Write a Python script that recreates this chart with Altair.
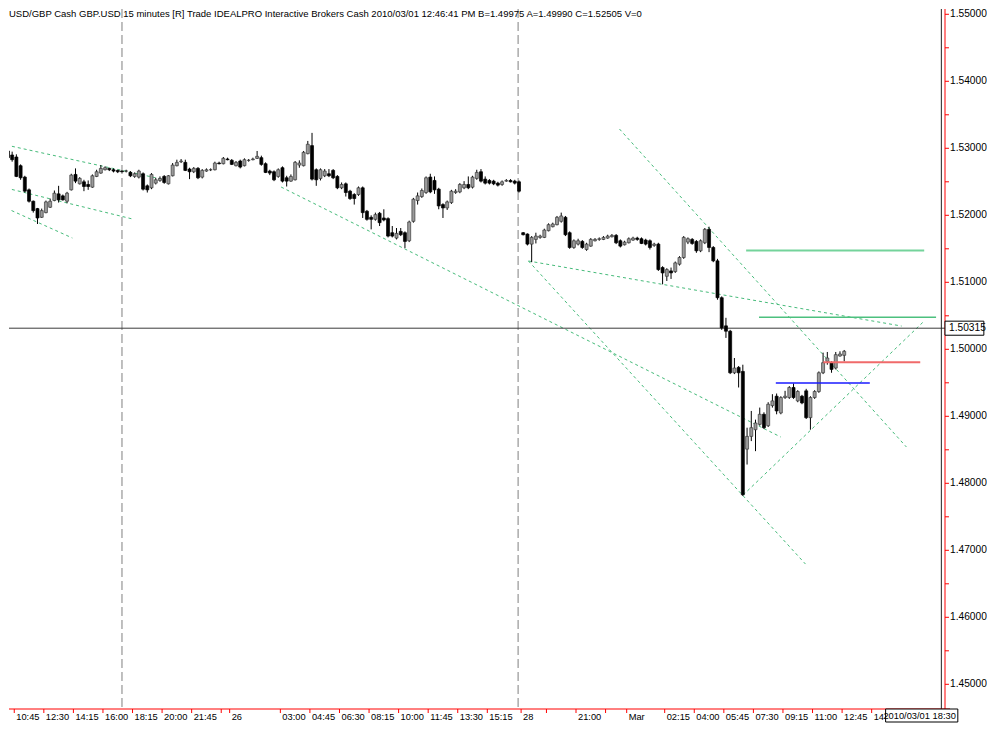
import altair as alt
import pandas as pd

FONT = "Arial"
HEADER = ("USD/GBP Cash GBP.USD 15 minutes [R] Trade IDEALPRO Interactive Brokers Cash "
          "2010/03/01 12:46:41 PM B=1.49975 A=1.49990 C=1.52505 V=0")

# ---- 15-minute candles (bar index, first bar = -2) ----
FIRST_BAR = -2
bar_open = [
    1.5296, 1.5290, 1.5287, 1.5274, 1.5257, 1.5238, 1.5221, 1.5210, 1.5197, 1.5204,
    1.5212, 1.5222, 1.5232, 1.5229, 1.5221, 1.5238, 1.5261, 1.5247, 1.5250, 1.5246,
    1.5242, 1.5258, 1.5263, 1.5268, 1.5270, 1.5268, 1.5267, 1.5266, 1.5266, 1.5264,
    1.5258, 1.5257, 1.5262, 1.5244, 1.5241, 1.5248, 1.5252, 1.5258, 1.5247, 1.5259,
    1.5274, 1.5280, 1.5279, 1.5269, 1.5265, 1.5270, 1.5257, 1.5266, 1.5268, 1.5268,
    1.5278, 1.5277, 1.5284, 1.5282, 1.5274, 1.5281, 1.5274, 1.5282, 1.5283, 1.5285,
    1.5286, 1.5277, 1.5266, 1.5265, 1.5258, 1.5271, 1.5256, 1.5251, 1.5253, 1.5275,
    1.5274, 1.5292, 1.5304, 1.5268, 1.5255, 1.5259, 1.5262, 1.5267, 1.5258, 1.5241,
    1.5247, 1.5236, 1.5231, 1.5231, 1.5241, 1.5206, 1.5197, 1.5194, 1.5203, 1.5196,
    1.5195, 1.5174, 1.5166, 1.5176, 1.5174, 1.5162, 1.5191, 1.5222, 1.5228, 1.5234,
    1.5257, 1.5252, 1.5239, 1.5216, 1.5211, 1.5219, 1.5234, 1.5235, 1.5241, 1.5246,
    1.5242, 1.5255, 1.5265, 1.5254, 1.5252, 1.5251, 1.5248, 1.5246, 1.5251, 1.5252,
    1.5251, 1.5250, 1.5174, 1.5172, 1.5157, 1.5164, 1.5167, 1.5167, 1.5177, 1.5183,
    1.5186, 1.5191, 1.5197, 1.5174, 1.5152, 1.5157, 1.5161, 1.5149, 1.5154, 1.5162,
    1.5164, 1.5164, 1.5166, 1.5168, 1.5170, 1.5162, 1.5156, 1.5159, 1.5163, 1.5166,
    1.5165, 1.5163, 1.5162, 1.5155, 1.5157, 1.5122, 1.5109, 1.5117, 1.5116, 1.5127,
    1.5137, 1.5160, 1.5164, 1.5161, 1.5147, 1.5159, 1.5179, 1.5152, 1.5132, 1.5077,
    1.5035, 1.5027, 1.4965, 1.4973, 1.4967, 1.4851, 1.4870, 1.4880, 1.4888, 1.4903,
    1.4886, 1.4916, 1.4930, 1.4905, 1.4928, 1.4928, 1.4943, 1.4923, 1.4930, 1.4938,
    1.4898, 1.4928, 1.4937, 1.4965, 1.4982, 1.4980, 1.4972, 1.4990, 1.4991,
]
bar_high = [
    1.5301, 1.5295, 1.5291, 1.5276, 1.5259, 1.5240, 1.5222, 1.5211, 1.5210, 1.5222,
    1.5225, 1.5237, 1.5244, 1.5231, 1.5235, 1.5262, 1.5270, 1.5257, 1.5253, 1.5252,
    1.5261, 1.5268, 1.5275, 1.5273, 1.5271, 1.5270, 1.5268, 1.5267, 1.5268, 1.5266,
    1.5264, 1.5268, 1.5264, 1.5246, 1.5263, 1.5256, 1.5258, 1.5260, 1.5260, 1.5278,
    1.5283, 1.5284, 1.5283, 1.5271, 1.5272, 1.5272, 1.5269, 1.5270, 1.5270, 1.5280,
    1.5280, 1.5287, 1.5286, 1.5284, 1.5281, 1.5283, 1.5285, 1.5284, 1.5286, 1.5296,
    1.5289, 1.5279, 1.5268, 1.5267, 1.5270, 1.5273, 1.5259, 1.5261, 1.5281, 1.5282,
    1.5296, 1.5311, 1.5323, 1.5270, 1.5270, 1.5269, 1.5269, 1.5269, 1.5260, 1.5249,
    1.5249, 1.5238, 1.5233, 1.5243, 1.5243, 1.5208, 1.5200, 1.5204, 1.5205, 1.5209,
    1.5197, 1.5184, 1.5181, 1.5181, 1.5176, 1.5192, 1.5226, 1.5234, 1.5240, 1.5258,
    1.5262, 1.5258, 1.5241, 1.5218, 1.5222, 1.5238, 1.5239, 1.5248, 1.5251, 1.5258,
    1.5259, 1.5268, 1.5269, 1.5258, 1.5254, 1.5253, 1.5250, 1.5252, 1.5254, 1.5254,
    1.5253, 1.5252, 1.5175, 1.5173, 1.5169, 1.5174, 1.5171, 1.5180, 1.5188, 1.5189,
    1.5199, 1.5204, 1.5199, 1.5176, 1.5164, 1.5165, 1.5163, 1.5159, 1.5166, 1.5166,
    1.5167, 1.5169, 1.5171, 1.5172, 1.5172, 1.5164, 1.5162, 1.5167, 1.5168, 1.5168,
    1.5167, 1.5165, 1.5164, 1.5159, 1.5159, 1.5124, 1.5121, 1.5122, 1.5131, 1.5139,
    1.5169, 1.5167, 1.5166, 1.5163, 1.5164, 1.5181, 1.5183, 1.5154, 1.5135, 1.5079,
    1.5047, 1.5029, 1.4987, 1.4975, 1.4977, 1.4883, 1.4908, 1.4895, 1.4913, 1.4906,
    1.4921, 1.4933, 1.4934, 1.4930, 1.4938, 1.4945, 1.4949, 1.4939, 1.4932, 1.4941,
    1.4930, 1.4939, 1.4967, 1.4995, 1.4996, 1.4982, 1.4996, 1.4997, 1.4999,
]
bar_low = [
    1.5284, 1.5280, 1.5257, 1.5253, 1.5234, 1.5219, 1.5204, 1.5187, 1.5196, 1.5203,
    1.5211, 1.5221, 1.5219, 1.5222, 1.5218, 1.5237, 1.5248, 1.5246, 1.5236, 1.5238,
    1.5241, 1.5257, 1.5262, 1.5267, 1.5266, 1.5264, 1.5263, 1.5264, 1.5264, 1.5257,
    1.5256, 1.5255, 1.5237, 1.5234, 1.5239, 1.5246, 1.5250, 1.5247, 1.5246, 1.5258,
    1.5273, 1.5278, 1.5266, 1.5254, 1.5263, 1.5254, 1.5255, 1.5265, 1.5266, 1.5267,
    1.5276, 1.5276, 1.5282, 1.5275, 1.5273, 1.5270, 1.5273, 1.5280, 1.5282, 1.5284,
    1.5274, 1.5263, 1.5260, 1.5251, 1.5256, 1.5249, 1.5243, 1.5250, 1.5252, 1.5271,
    1.5273, 1.5291, 1.5252, 1.5244, 1.5252, 1.5257, 1.5257, 1.5254, 1.5239, 1.5239,
    1.5228, 1.5223, 1.5216, 1.5229, 1.5196, 1.5192, 1.5179, 1.5192, 1.5184, 1.5191,
    1.5167, 1.5167, 1.5164, 1.5169, 1.5151, 1.5160, 1.5189, 1.5216, 1.5226, 1.5232,
    1.5233, 1.5232, 1.5209, 1.5196, 1.5208, 1.5217, 1.5232, 1.5233, 1.5239, 1.5239,
    1.5240, 1.5253, 1.5249, 1.5246, 1.5246, 1.5245, 1.5243, 1.5244, 1.5250, 1.5249,
    1.5246, 1.5234, 1.5170, 1.5155, 1.5130, 1.5158, 1.5165, 1.5166, 1.5176, 1.5182,
    1.5185, 1.5189, 1.5169, 1.5150, 1.5150, 1.5155, 1.5150, 1.5147, 1.5153, 1.5161,
    1.5162, 1.5163, 1.5165, 1.5167, 1.5157, 1.5152, 1.5155, 1.5158, 1.5162, 1.5162,
    1.5157, 1.5155, 1.5149, 1.5153, 1.5117, 1.5097, 1.5102, 1.5105, 1.5114, 1.5125,
    1.5135, 1.5157, 1.5156, 1.5144, 1.5145, 1.5157, 1.5145, 1.5130, 1.5074, 1.5029,
    1.5017, 1.4963, 1.4963, 1.4943, 1.4781, 1.4828, 1.4863, 1.4848, 1.4886, 1.4881,
    1.4884, 1.4913, 1.4903, 1.4903, 1.4926, 1.4926, 1.4926, 1.4921, 1.4918, 1.4896,
    1.4880, 1.4926, 1.4935, 1.4963, 1.4977, 1.4965, 1.4970, 1.4989, 1.4982,
]
bar_close = [
    1.5286, 1.5283, 1.5258, 1.5256, 1.5236, 1.5221, 1.5207, 1.5196, 1.5207, 1.5220,
    1.5221, 1.5233, 1.5223, 1.5223, 1.5233, 1.5260, 1.5251, 1.5255, 1.5243, 1.5243,
    1.5259, 1.5265, 1.5270, 1.5271, 1.5268, 1.5266, 1.5265, 1.5265, 1.5266, 1.5259,
    1.5262, 1.5266, 1.5239, 1.5238, 1.5261, 1.5253, 1.5255, 1.5249, 1.5259, 1.5275,
    1.5279, 1.5281, 1.5267, 1.5265, 1.5270, 1.5256, 1.5267, 1.5268, 1.5268, 1.5278,
    1.5277, 1.5285, 1.5283, 1.5276, 1.5279, 1.5272, 1.5283, 1.5282, 1.5284, 1.5288,
    1.5276, 1.5264, 1.5263, 1.5253, 1.5268, 1.5251, 1.5251, 1.5258, 1.5279, 1.5278,
    1.5294, 1.5306, 1.5254, 1.5253, 1.5268, 1.5266, 1.5259, 1.5256, 1.5241, 1.5246,
    1.5234, 1.5225, 1.5225, 1.5241, 1.5204, 1.5194, 1.5194, 1.5201, 1.5189, 1.5193,
    1.5169, 1.5169, 1.5173, 1.5171, 1.5161, 1.5190, 1.5224, 1.5229, 1.5237, 1.5256,
    1.5235, 1.5238, 1.5214, 1.5211, 1.5220, 1.5236, 1.5236, 1.5246, 1.5246, 1.5241,
    1.5257, 1.5264, 1.5251, 1.5248, 1.5248, 1.5247, 1.5245, 1.5250, 1.5252, 1.5250,
    1.5248, 1.5236, 1.5171, 1.5157, 1.5167, 1.5169, 1.5169, 1.5178, 1.5186, 1.5187,
    1.5197, 1.5199, 1.5171, 1.5152, 1.5162, 1.5162, 1.5152, 1.5157, 1.5164, 1.5164,
    1.5165, 1.5167, 1.5169, 1.5170, 1.5159, 1.5154, 1.5160, 1.5165, 1.5166, 1.5164,
    1.5158, 1.5157, 1.5152, 1.5157, 1.5119, 1.5114, 1.5119, 1.5114, 1.5129, 1.5137,
    1.5167, 1.5165, 1.5158, 1.5147, 1.5162, 1.5179, 1.5152, 1.5132, 1.5077, 1.5032,
    1.5027, 1.4965, 1.4972, 1.4965, 1.4783, 1.4870, 1.4883, 1.4890, 1.4903, 1.4883,
    1.4918, 1.4923, 1.4908, 1.4928, 1.4930, 1.4943, 1.4928, 1.4937, 1.4920, 1.4898,
    1.4928, 1.4937, 1.4965, 1.4980, 1.4987, 1.4970, 1.4992, 1.4993, 1.4997,
]

# ---- time axis (ticks sit half a bar before the labelled bar) ----
tick_bars = [-0.5, 6.5, 13.5, 20.5, 27.5, 34.5, 41.5, 48.5, 50.5, 62.5, 69.5, 76.5,
             83.5, 90.5, 97.5, 104.5, 111.5, 119.5, 125.5, 132.5, 139.5, 144.5, 153.5,
             160.5, 167.5, 174.5, 181.5, 188.5, 195.5, 202.5]
tick_labels = ["10:45", "12:30", "14:15", "16:00", "18:15", "20:00", "21:45", "", "26",
               "03:00", "04:45", "06:30", "08:15", "10:00", "11:45", "13:30", "15:15",
               "28", "", "21:00", "", "Mar", "02:15", "04:00", "05:45", "07:30", "09:15",
               "11:00", "12:45", "14"]
# price axis: a tick every 0.005, a label every 0.01
price_ticks = [1.450, 1.455, 1.460, 1.465, 1.470, 1.475, 1.480, 1.485, 1.490, 1.495,
               1.500, 1.505, 1.510, 1.515, 1.520, 1.525, 1.530, 1.535, 1.540, 1.545, 1.550]
price_labels = ["1.45000", "", "1.46000", "", "1.47000", "", "1.48000", "", "1.49000", "",
                "1.50000", "", "1.51000", "", "1.52000", "", "1.53000", "", "1.54000", "",
                "1.55000"]

session_breaks = [25.0, 118.8]

# dashed trend lines (bar index, price)
trend_x1 = [-2.44, -2.44, -2.44, 62.68, 121.24, 121.24, 142.79, 172.07]
trend_x2 = [34.34, 27.55, 13.26, 180.98, 209.60, 186.83, 210.73, 214.94]
trend_y1 = [1.53049, 1.52407, 1.52108, 1.52422, 1.51318, 1.51318, 1.53288, 1.47825]
trend_y2 = [1.52541, 1.51944, 1.51661, 1.48691, 1.50347, 1.46795, 1.48542, 1.50422]

# horizontal levels
level_x1 = [172.78, 175.83, 191.05, 179.81]
level_x2 = [214.94, 217.75, 214.00, 202.06]
level_y = [1.51474, 1.50477, 1.49806, 1.49497]
level_color = ["#74d39b", "#4cc07e", "#f06a6a", "#1a1aff"]
level_width = [2.0, 1.5, 2.0, 1.5]

cursor_price = 1.50315
cursor_bar = 219
cursor_time = "2010/03/01 18:30"
time_box_bars = [205.8, 222.9]

X_LEFT, X_RIGHT = -0.5622, 219.864
PLOT_W, PLOT_H = 941, 700
Y_TOP = 1.55079
PX_P = 0.00014925                       # price per pixel
Y_BOTTOM = Y_TOP - PLOT_H * PX_P
PX_I = (X_RIGHT - X_LEFT) / PLOT_W      # bars per pixel
RED = "#ff0000"

# ---------------------------------------------------------------
bars = pd.DataFrame({
    "i": list(range(FIRST_BAR, FIRST_BAR + len(bar_open))),
    "o": bar_open, "h": bar_high, "l": bar_low, "c": bar_close,
})
trend_df = pd.DataFrame({"x1": trend_x1, "x2": trend_x2, "y1": trend_y1, "y2": trend_y2})
level_df = pd.DataFrame({"x1": level_x1, "x2": level_x2, "y": level_y,
                         "col": level_color, "w": level_width})
xt_df = pd.DataFrame({"i": tick_bars, "lab": tick_labels})
xt_df["y0"] = Y_BOTTOM
xt_df["y1"] = Y_BOTTOM - 4 * PX_P
xt_df["ylab"] = Y_BOTTOM - 8.3 * PX_P
yt_df = pd.DataFrame({"p": price_ticks, "lab": price_labels})
yt_df["x0"] = X_RIGHT
yt_df["x1"] = X_RIGHT + 4 * PX_I

xs = alt.Scale(domain=[X_LEFT, X_RIGHT], nice=False, zero=False)
ys = alt.Scale(domain=[Y_BOTTOM, Y_TOP], nice=False, zero=False)


def X(f):
    return alt.X(f, scale=xs, axis=None, title=None)


def Y(f):
    return alt.Y(f, scale=ys, axis=None, title=None)


sess = alt.Chart(pd.DataFrame({"i": session_breaks})).mark_rule(
    color="#ababab", strokeWidth=1.5, strokeDash=[9, 4]
).encode(x=X("i:Q"))

trend = alt.Chart(trend_df).mark_rule(
    color="#46bb7a", strokeWidth=1, strokeDash=[3, 3], clip=True
).encode(x=X("x1:Q"), x2="x2:Q", y=Y("y1:Q"), y2="y2:Q")

cross_h = alt.Chart(pd.DataFrame({"p": [cursor_price]})).mark_rule(
    color="#3a3a3a", strokeWidth=1
).encode(y=Y("p:Q"))

wick = alt.Chart(bars).mark_rule(color="#000000", strokeWidth=1, clip=True).encode(
    x=X("i:Q"), y=Y("l:Q"), y2="h:Q",
)

body = alt.Chart(bars).mark_bar(size=3, strokeWidth=0.7, clip=True).encode(
    x=X("i:Q"), y=Y("o:Q"), y2="c:Q",
    fill=alt.condition("datum.c >= datum.o", alt.value("#9a9a9a"), alt.value("#000000")),
    stroke=alt.condition("datum.c >= datum.o", alt.value("#3a3a3a"), alt.value("#000000")),
)

levels = alt.Chart(level_df).mark_rule().encode(
    x=X("x1:Q"), x2="x2:Q", y=Y("y:Q"),
    color=alt.Color("col:N", scale=None),
    strokeWidth=alt.StrokeWidth("w:Q", scale=None),
)

cross_v = alt.Chart(pd.DataFrame({"i": [cursor_bar]})).mark_rule(
    color="#222222", strokeWidth=1
).encode(x=X("i:Q"))

# ---- hand-drawn axes (red frame lines, ticks and labels) ----
x_dom = alt.Chart(pd.DataFrame({"p": [Y_BOTTOM]})).mark_rule(color=RED, strokeWidth=1).encode(y=Y("p:Q"))
y_dom = alt.Chart(pd.DataFrame({"i": [X_RIGHT]})).mark_rule(color=RED, strokeWidth=1).encode(x=X("i:Q"))
x_ticks = alt.Chart(xt_df).mark_rule(color=RED, strokeWidth=1).encode(
    x=X("i:Q"), y=Y("y0:Q"), y2="y1:Q")
x_labels = alt.Chart(xt_df).mark_text(
    align="left", baseline="middle", font=FONT, fontSize=9.3, color="#000000", dx=2
).encode(x=X("i:Q"), y=Y("ylab:Q"), text="lab:N")
y_ticks = alt.Chart(yt_df).mark_rule(color=RED, strokeWidth=1).encode(
    x=X("x0:Q"), x2="x1:Q", y=Y("p:Q"))
y_labels = alt.Chart(yt_df).mark_text(
    align="left", baseline="middle", font=FONT, fontSize=10.2, color="#000000", dx=5
).encode(x=X("x0:Q"), y=Y("p:Q"), text="lab:N")

pbox_df = pd.DataFrame({"x1": [X_RIGHT], "x2": [X_RIGHT + 9.2],
                        "y1": [cursor_price - 0.00105], "y2": [cursor_price + 0.00105],
                        "p": [cursor_price], "t": ["%.5f" % cursor_price]})
pbox = alt.Chart(pbox_df).mark_rect(fill="#ffffff", stroke="#000000", strokeWidth=1).encode(
    x=X("x1:Q"), x2="x2:Q", y=Y("y1:Q"), y2="y2:Q")
ptext = alt.Chart(pbox_df).mark_text(
    align="left", baseline="middle", font=FONT, fontSize=10.2, color="#000000", dx=4
).encode(x=X("x1:Q"), y=Y("p:Q"), text="t:N")

tbox_df = pd.DataFrame({"x1": [time_box_bars[0]], "x2": [time_box_bars[1]],
                        "y1": [Y_BOTTOM], "y2": [Y_BOTTOM - 13 * PX_P],
                        "ym": [Y_BOTTOM - 6.6 * PX_P], "t": [cursor_time]})
tbox = alt.Chart(tbox_df).mark_rect(fill="#ffffff", stroke="#000000", strokeWidth=1).encode(
    x=X("x1:Q"), x2="x2:Q", y=Y("y1:Q"), y2="y2:Q")
ttext = alt.Chart(tbox_df).mark_text(
    align="right", baseline="middle", font=FONT, fontSize=9.3, color="#000000", dx=-2
).encode(x=X("x2:Q"), y=Y("ym:Q"), text="t:N")

header = alt.Chart(pd.DataFrame({"t": [HEADER]})).mark_text(
    align="left", baseline="top", font=FONT, fontSize=9.5, color="#000000"
).encode(x=alt.value(0), y=alt.value(0), text="t:N")

chart = alt.layer(
    sess, trend, cross_h, wick, body, levels, cross_v,
    x_dom, y_dom, x_ticks, y_ticks, x_labels, y_labels,
    pbox, ptext, tbox, ttext, header
).properties(
    width=PLOT_W, height=PLOT_H, background="#ffffff", padding=0,
).configure_view(strokeWidth=0)

chart.save("out.html", embed_options={"renderer": "svg", "actions": False})
